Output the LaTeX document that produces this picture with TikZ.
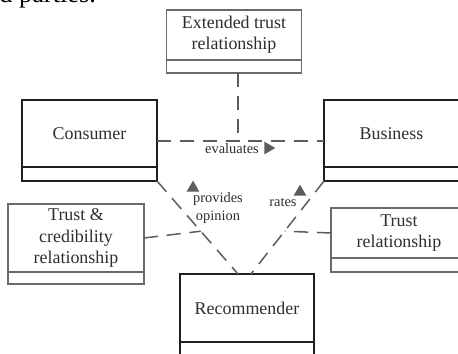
\documentclass[tikz,border=0pt]{standalone}
\usepackage{fontspec}
\setmainfont{Liberation Serif}
\usetikzlibrary{positioning,calc,shapes.geometric}
\definecolor{linegray}{HTML}{5C5C5C}
\definecolor{boxgray}{HTML}{6A6A6A}
\definecolor{textgray}{HTML}{2E2E2E}

\begin{document}
\begin{tikzpicture}[x=0.02cm,y=-0.02cm,
	entity/.style={draw=black!88,line width=1.1pt,minimum width=2.7cm,inner sep=0pt,outer sep=0pt,align=center,text=textgray,font=\fontsize{10.2}{12}\selectfont},
	relation/.style={draw=boxgray,line width=0.85pt,minimum width=2.72cm,inner sep=0pt,outer sep=0pt,align=center,text=textgray,font=\fontsize{10.2}{12}\selectfont},
	assoc/.style={draw=linegray,line width=0.85pt,dash pattern=on 8pt off 5pt},
	role/.style={text=textgray,font=\fontsize{8.2}{10.2}\selectfont,align=center,inner sep=0pt},
	roletip/.style={isosceles triangle,isosceles triangle apex angle=60,fill=linegray,inner sep=0pt,minimum size=0.22cm}]
	\clip (0,0) rectangle (458,354);
	\fill[white] (0,0) rectangle (458,354);
	
	% text of the page above the figure
	\node[anchor=base west,inner sep=0pt,font=\fontsize{15}{18}\selectfont] (para) at (-1,2.5) {d parties.};
	
	% classes
	\node[relation,minimum width=2.7cm,minimum height=1cm] (ext) at (234,35) {Extended trust\\relationship};
	\node[relation,minimum width=2.7cm,minimum height=0.26cm,below=0pt of ext] (extC) {};
	
	\node[entity,minimum height=1.34cm] (cons) at (89.5,133.5) {Consumer};
	\node[entity,minimum height=0.28cm,below=0pt of cons] (consC) {};
	
	\node[entity,minimum height=1.34cm] (busi) at (391.5,133.5) {Business};
	\node[entity,minimum height=0.28cm,below=0pt of busi] (busiC) {};
	
	\node[relation,minimum height=1.36cm] (tcr) at (76,238) {Trust \&\\credibility\\relationship};
	\node[relation,minimum height=0.24cm,below=0pt of tcr] (tcrC) {};
	
	\node[relation,minimum height=1cm] (trel) at (399,233) {Trust\\relationship};
	\node[relation,minimum height=0.28cm,below=0pt of trel] (trelC) {};
	
	\node[entity,minimum width=2.68cm,minimum height=1.36cm] (rec) at (247,308) {Recommender};
	\node[entity,minimum width=2.68cm,minimum height=0.28cm,below=0pt of rec] (recC) {};
	
	% associations
	\coordinate (evL) at ([yshift=-0.15cm]cons.east);
	\coordinate (evR) at ([yshift=-0.15cm]busi.west);
	\coordinate (extD) at ([xshift=0.08cm]extC.south);
	\coordinate (recL) at ([xshift=-0.18cm]rec.north);
	\coordinate (recR) at ([xshift=0.08cm]rec.north);
	
	\draw[assoc] (evL) -- (evR);
	\draw[assoc] (extD) -- (extD |- evL);
	\draw[assoc] (consC.south east) -- (recL);
	\draw[assoc] (busiC.south west) -- (recR);
	\draw[assoc] (tcr.east) -- ($(consC.south east)!0.54!(recL)$);
	\draw[assoc] (trel.west) -- ($(busiC.south west)!0.54!(recR)$);
	
	% role names
	\node[role] (evlab) at (232,149) {evaluates};
	\node[roletip] (evtip) at (268,148) {};
	\node[role] (oplab) at (218,208) {provides\\opinion};
	\node[roletip,shape border rotate=131] (optip) at (193,188) {};
	\node[role] (ratelab) at (283,203) {rates};
	\node[roletip,shape border rotate=52] (ratetip) at (300,192) {};
\end{tikzpicture}
\end{document}
